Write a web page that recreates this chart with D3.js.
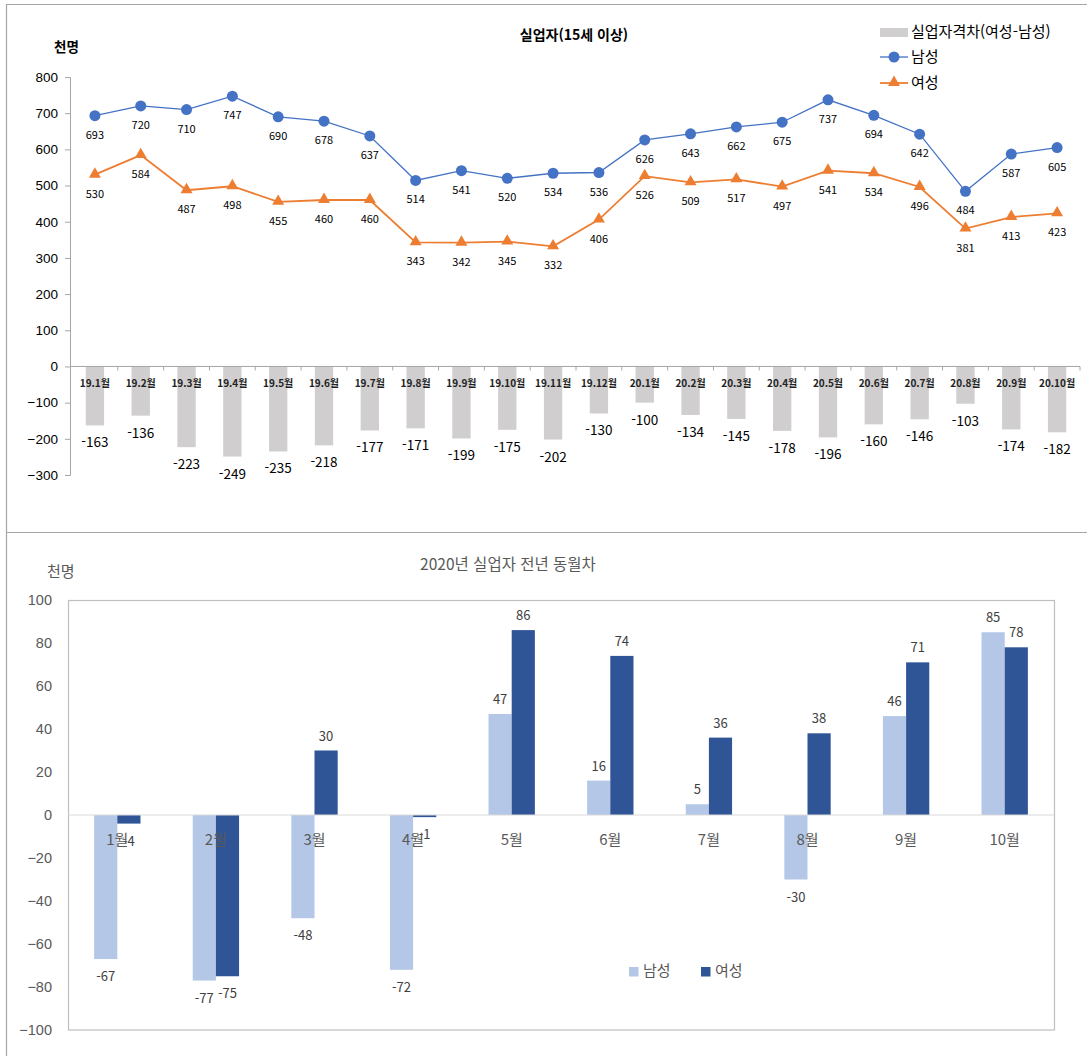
<!DOCTYPE html>
<html lang="ko">
<head>
<meta charset="utf-8">
<script src="https://cdn.jsdelivr.net/npm/d3@7"></script>
<style>
  html, body { margin: 0; padding: 0; background: #fff; }
  svg { display: block; font-family: "Noto Sans CJK KR", "Noto Sans", sans-serif; }
</style>
</head>
<body>
<svg id="chart" width="1087" height="1056"></svg>
<script>
// ---- Monthly unemployed (thousand persons), Jan 2019 – Oct 2020 ----
const months = ["19.1월","19.2월","19.3월","19.4월","19.5월","19.6월","19.7월","19.8월","19.9월","19.10월","19.11월","19.12월",
                "20.1월","20.2월","20.3월","20.4월","20.5월","20.6월","20.7월","20.8월","20.9월","20.10월"];
const male   = [693,720,710,747,690,678,637,514,541,520,534,536,626,643,662,675,737,694,642,484,587,605];
const female = [530,584,487,498,455,460,460,343,342,345,332,406,526,509,517,497,541,534,496,381,413,423];
const gap    = [-163,-136,-223,-249,-235,-218,-177,-171,-199,-175,-202,-130,-100,-134,-145,-178,-196,-160,-146,-103,-174,-182];
const topTicks = [-300,-200,-100,0,100,200,300,400,500,600,700,800];

// ---- 2020 year-over-year change by month ----
const months2020 = ["1월","2월","3월","4월","5월","6월","7월","8월","9월","10월"];
const maleDiff   = [-67,-77,-48,-72,47,16,5,-30,46,85];
const femaleDiff = [-4,-75,30,-1,86,74,36,38,71,78];
const bottomTicks = [-100,-80,-60,-40,-20,0,20,40,60,80,100];

const C = { male: "#4472C4", female: "#ED7D31", gap: "#D0CECE",
            maleBar: "#B4C7E7", femaleBar: "#2F5597", axis: "#BFBFBF", grey: "#595959" };

const svg = d3.select("#chart");

// panel frames
svg.append("path")
  .attr("d", "M6.5,1056 V4.5 H1087 M6.5,532.5 H1087")
  .attr("fill", "none").attr("stroke", "#A6A6A6").attr("stroke-width", 1.2);

// =================== Upper panel ===================
const upper = svg.append("g");
const x = d3.scaleBand().domain(months).range([72, 1080]).paddingInner(0.6).paddingOuter(0.3);
const y = d3.scaleLinear().domain([-300, 800]).range([475, 77]);
const cx = d => x(d) + x.bandwidth() / 2;

// gap bars
upper.append("g").selectAll("rect").data(gap).join("rect")
  .attr("x", (d, i) => x(months[i]))
  .attr("width", x.bandwidth())
  .attr("y", d => y(Math.max(0, d)))
  .attr("height", d => Math.abs(y(d) - y(0)))
  .attr("fill", C.gap);

// y axis
const yAx = upper.append("g").attr("transform", "translate(70,0)")
  .call(d3.axisLeft(y).tickValues(topTicks).tickSize(5).tickPadding(7).tickFormat(d3.format("d")));
yAx.select(".domain").attr("stroke", "#A6A6A6");
yAx.selectAll(".tick line").attr("stroke", "#A6A6A6");
yAx.selectAll("text").attr("font-size", 13.5).attr("fill", "#000");

// zero line with category boundary ticks
upper.append("line").attr("x1", 70).attr("x2", 1080).attr("y1", y(0)).attr("y2", y(0))
  .attr("stroke", "#A6A6A6");
const bound = d => cx(d) + x.step() / 2;
upper.append("g").selectAll("line").data(months).join("line")
  .attr("x1", bound).attr("x2", bound)
  .attr("y1", y(0)).attr("y2", y(0) + 4)
  .attr("stroke", "#A6A6A6");

// category labels
upper.append("g").selectAll("text").data(months).join("text")
  .attr("x", cx).attr("y", y(0) + 21)
  .attr("text-anchor", "middle").attr("font-size", 10).attr("font-weight", "bold")
  .attr("fill", "#222").text(d => d);

// gap labels
upper.append("g").selectAll("text").data(gap).join("text")
  .attr("x", (d, i) => cx(months[i])).attr("y", d => y(d) + 22)
  .attr("text-anchor", "middle").attr("font-size", 13.5).attr("fill", "#000")
  .text(d => d);

// lines
const line = d3.line().x((d, i) => cx(months[i])).y(d => y(d));
upper.append("path").datum(male).attr("d", line).attr("fill", "none")
  .attr("stroke", C.male).attr("stroke-width", 1.3);
upper.append("path").datum(female).attr("d", line).attr("fill", "none")
  .attr("stroke", C.female).attr("stroke-width", 1.8);

// markers
upper.append("g").selectAll("circle").data(male).join("circle")
  .attr("cx", (d, i) => cx(months[i])).attr("cy", d => y(d)).attr("r", 5.5)
  .attr("fill", C.male);
const tri = d3.symbol().type(d3.symbolTriangle).size(62);
upper.append("g").selectAll("path").data(female).join("path")
  .attr("transform", (d, i) => `translate(${cx(months[i])},${y(d) - 0.5})`)
  .attr("d", tri).attr("fill", C.female);

// value labels
upper.append("g").selectAll("text").data(male).join("text")
  .attr("x", (d, i) => cx(months[i])).attr("y", d => y(d) + 23)
  .attr("text-anchor", "middle").attr("font-size", 11).attr("fill", "#000").text(d => d);
upper.append("g").selectAll("text").data(female).join("text")
  .attr("x", (d, i) => cx(months[i])).attr("y", d => y(d) + 23)
  .attr("text-anchor", "middle").attr("font-size", 11).attr("fill", "#000").text(d => d);

// title and unit
upper.append("text").attr("x", 574).attr("y", 40).attr("text-anchor", "middle")
  .attr("font-size", 14).attr("font-weight", "bold").text("실업자(15세 이상)");
upper.append("text").attr("x", 54).attr("y", 52)
  .attr("font-size", 13.5).attr("font-weight", "bold").text("천명");

// legend
const lg = upper.append("g").attr("transform", "translate(880,0)");
lg.append("rect").attr("x", 0).attr("y", 28).attr("width", 28).attr("height", 9).attr("fill", C.gap);
lg.append("line").attr("x1", 0).attr("x2", 28).attr("y1", 57).attr("y2", 57).attr("stroke", C.male).attr("stroke-width", 1.3);
lg.append("circle").attr("cx", 14).attr("cy", 57).attr("r", 5.5).attr("fill", C.male);
lg.append("line").attr("x1", 0).attr("x2", 28).attr("y1", 83).attr("y2", 83).attr("stroke", C.female).attr("stroke-width", 1.8);
lg.append("path").attr("transform", "translate(14,82.5)").attr("d", tri).attr("fill", C.female);
[["실업자격차(여성-남성)", 33], ["남성", 58], ["여성", 84]].forEach(([t, yy]) => {
  lg.append("text").attr("x", 31).attr("y", yy).attr("dominant-baseline", "middle")
    .attr("font-size", 15).attr("fill", "#000").text(t);
});

// =================== Lower panel ===================
const lower = svg.append("g");
const xb = d3.scaleBand().domain(months2020).range([68, 1054]).paddingInner(0.53).paddingOuter(0.265);
const xs = d3.scaleBand().domain(["남성", "여성"]).range([0, xb.bandwidth()]);
const yb = d3.scaleLinear().domain([-100, 100]).range([1030, 600]);

// plot frame
lower.append("rect").attr("x", 68.5).attr("y", 600.5).attr("width", 986).attr("height", 429.5)
  .attr("fill", "none").attr("stroke", C.axis).attr("stroke-width", 1.2);

// y axis labels
const ybAx = lower.append("g").attr("transform", "translate(68,0)")
  .call(d3.axisLeft(yb).tickValues(bottomTicks).tickSize(0).tickPadding(16).tickFormat(d3.format("d")));
ybAx.select(".domain").remove();
ybAx.selectAll("text").attr("font-size", 14.5).attr("fill", C.grey);

const series = [
  { key: "남성", vals: maleDiff, color: C.maleBar },
  { key: "여성", vals: femaleDiff, color: C.femaleBar }
];
series.forEach(s => {
  const g = lower.append("g");
  g.selectAll("rect").data(s.vals).join("rect")
    .attr("x", (d, i) => xb(months2020[i]) + xs(s.key))
    .attr("width", xs.bandwidth())
    .attr("y", d => yb(Math.max(0, d)))
    .attr("height", d => Math.abs(yb(d) - yb(0)))
    .attr("fill", s.color);
  g.selectAll("text").data(s.vals).join("text")
    .attr("x", (d, i) => xb(months2020[i]) + xs(s.key) + xs.bandwidth() / 2)
    .attr("y", d => d >= 0 ? yb(d) - 10 : yb(d) + 22)
    .attr("text-anchor", "middle").attr("font-size", 13).attr("fill", "#404040")
    .text(d => d);
});

// zero line
lower.append("line").attr("x1", 68).attr("x2", 1054).attr("y1", yb(0)).attr("y2", yb(0))
  .attr("stroke", "#D9D9D9").attr("stroke-width", 1.2);

// category labels
lower.append("g").selectAll("text").data(months2020).join("text")
  .attr("x", d => xb(d) + xb.bandwidth() / 2).attr("y", yb(0) + 30)
  .attr("text-anchor", "middle").attr("font-size", 15).attr("fill", C.grey).text(d => d);

// title and unit
lower.append("text").attr("x", 508).attr("y", 570).attr("text-anchor", "middle")
  .attr("font-size", 15.5).attr("fill", C.grey).text("2020년 실업자 전년 동월차");
lower.append("text").attr("x", 47).attr("y", 577)
  .attr("font-size", 15).attr("fill", C.grey).text("천명");

// legend
const lb = lower.append("g");
series.forEach((s, i) => {
  const ox = 629 + i * 72;
  lb.append("rect").attr("x", ox).attr("y", 967).attr("width", 9.5).attr("height", 9.5).attr("fill", s.color);
  lb.append("text").attr("x", ox + 14).attr("y", 972).attr("dominant-baseline", "middle")
    .attr("font-size", 15).attr("fill", C.grey).text(s.key);
});
</script>
</body>
</html>
